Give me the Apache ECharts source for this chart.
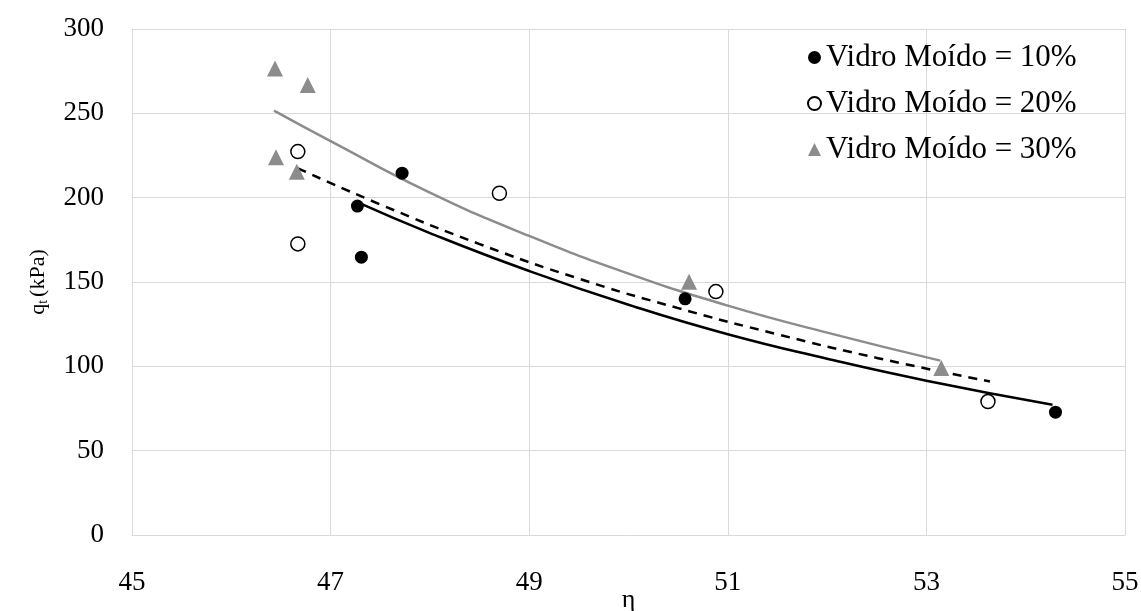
<!DOCTYPE html>
<html>
<head>
<meta charset="utf-8">
<script src="https://cdn.jsdelivr.net/npm/echarts@6/dist/echarts.min.js"></script>
<style>html,body{margin:0;padding:0;background:#fff}#c{width:1141px;height:611px}</style>
</head>
<body>
<div id="c"></div>
<script>
// Data points (η, qt)
const eta10 = [47.27, 47.31, 47.72, 50.57, 54.30];
const qt10  = [195.0, 164.7, 214.5, 140.0, 72.8];
const eta20 = [46.67, 46.67, 48.70, 50.88, 53.62];
const qt20  = [227.3, 172.6, 202.6, 144.3, 79.1];
const eta30 = [46.44, 46.77, 46.45, 46.66, 50.61, 53.15];
const qt30  = [276.6, 266.8, 224.0, 215.4, 150.2, 99.0];
// Trend lines
const trendEta10 = [47.28, 48.0, 49.0, 50.0, 51.0, 52.0, 53.0, 54.27];
const trendQt10  = [197.0, 179.0, 156.5, 136.5, 119.0, 104.5, 91.5, 77.2];
const trendEta20 = [46.67, 47.5, 48.5, 49.5, 50.5, 51.5, 52.5, 53.64];
const trendQt20  = [217.4, 196.0, 172.5, 152.0, 134.5, 119.0, 105.0, 91.0];
const trendEta30 = [46.43, 47.0, 48.0, 49.0, 50.0, 51.0, 52.0, 53.14];
const trendQt30  = [251.6, 233.5, 203.0, 177.3, 155.0, 136.0, 120.0, 103.4];
const seriesNames = ['Vidro Moído = 10%', 'Vidro Moído = 20%', 'Vidro Moído = 30%'];
const xTicks = [45, 47, 49, 51, 53, 55];

const zip = (a, b) => a.map((v, i) => [v, b[i]]);
const font = 'Liberation Serif, Times New Roman, serif';

const chart = echarts.init(document.getElementById('c'), null, {renderer: 'canvas'});
chart.setOption({
  animation: false,
  backgroundColor: '#fff',
  textStyle: {fontFamily: font},
  grid: {left: 132, right: 16, top: 29, bottom: 76, outerBoundsMode: 'none', containLabel: false},
  legend: {
    data: seriesNames,
    orient: 'vertical',
    left: 802,
    top: 37,
    itemGap: 15,
    itemWidth: 13,
    itemHeight: 13,
    textStyle: {fontFamily: font, fontSize: 31, color: '#000'},
  },
  xAxis: {
    type: 'value', min: xTicks[0], max: xTicks[xTicks.length - 1], interval: 2,
    name: 'η', nameLocation: 'middle', nameGap: 52, nameMoveOverlap: false,
    nameTextStyle: {fontFamily: font, fontSize: 26, color: '#000'},
    axisLine: {show: true, lineStyle: {color: '#d9d9d9', width: 1}},
    axisTick: {show: false},
    axisLabel: {color: '#000', fontSize: 27, fontFamily: font, margin: 34},
    splitLine: {show: true, lineStyle: {color: '#d9d9d9', width: 1}},
  },
  yAxis: {
    type: 'value', min: 0, max: 300, interval: 50,
    name: '{a|q}{b|t}{a|(kPa)}', nameLocation: 'middle', nameGap: 82, nameRotate: 90, nameMoveOverlap: false,
    nameTextStyle: {
      color: '#000',
      rich: {
        a: {fontFamily: font, fontSize: 22, color: '#000'},
        b: {fontFamily: font, fontSize: 14, color: '#000', verticalAlign: 'bottom', padding: [10, 3, 0, 0]},
      },
    },
    axisLine: {show: true, lineStyle: {color: '#d9d9d9', width: 1}},
    axisTick: {show: false},
    axisLabel: {color: '#000', fontSize: 27, fontFamily: font, margin: 28},
    splitLine: {show: true, lineStyle: {color: '#d9d9d9', width: 1}},
  },
  series: [
    {type: 'line', data: zip(trendEta30, trendQt30), smooth: 0.5, showSymbol: false, silent: true,
     lineStyle: {color: '#8c8c8c', width: 2.5}, z: 2},
    {type: 'line', data: zip(trendEta20, trendQt20), smooth: 0.5, showSymbol: false, silent: true,
     lineStyle: {color: '#000', width: 2.5, type: [9, 7]}, z: 2},
    {type: 'line', data: zip(trendEta10, trendQt10), smooth: 0.5, showSymbol: false, silent: true,
     lineStyle: {color: '#000', width: 2.5}, z: 2},
    {name: seriesNames[0], type: 'scatter', data: zip(eta10, qt10), symbol: 'circle', symbolSize: 13,
     itemStyle: {color: '#000', opacity: 1}, z: 5},
    {name: seriesNames[1], type: 'scatter', data: zip(eta20, qt20), symbol: 'circle', symbolSize: 14,
     itemStyle: {color: '#fff', borderColor: '#000', borderWidth: 1.5, opacity: 1}, z: 5},
    {name: seriesNames[2], type: 'scatter', data: zip(eta30, qt30), symbol: 'triangle', symbolSize: 16,
     itemStyle: {color: '#8c8c8c', opacity: 1}, z: 5},
  ],
});
</script>
</body>
</html>
